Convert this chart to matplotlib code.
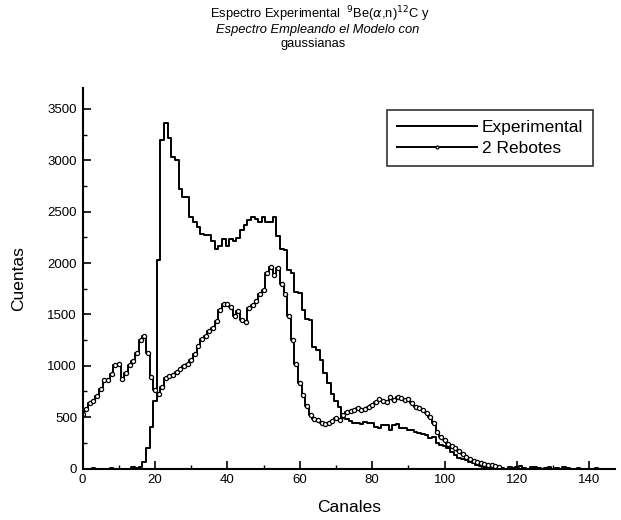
import matplotlib
matplotlib.use("Agg")
import matplotlib.pyplot as plt
import numpy as np
from matplotlib.ticker import MultipleLocator

plt.rcParams.update({
    "font.family": ["Liberation Sans", "DejaVu Sans"],
    "font.size": 9,
})

# Espectro experimental, cuentas por canal (canales 0..146)
EXP_CHANNELS = np.arange(0, 147)
EXP_COUNTS = np.array(
    [0, 0, 0, 5, 0, 0, 0, 0, 5, 0, 0, 0, 0, 0, 10, 5,
     10, 60, 200, 400, 660, 2030, 3200, 3360, 3220, 3035, 3000, 2720, 2640, 2640,
     2450, 2400, 2350, 2280, 2270, 2270, 2210, 2140, 2170, 2230,
     2170, 2230, 2210, 2240, 2320, 2370, 2420, 2450, 2430, 2400,
     2450, 2400, 2400, 2450, 2260, 2140, 2130, 1930, 1900, 1720,
     1710, 1540, 1460, 1450, 1180, 1150, 1060, 930, 830, 730,
     660, 600, 490, 480, 460, 445, 440, 430, 455, 440,
     440, 405, 390, 420, 425, 375, 420, 435, 395, 390,
     375, 373, 360, 350, 340, 330, 295, 305, 245, 228,
     215, 195, 165, 130, 100, 90, 80, 64, 50, 32,
     20, 10, 15, 5, 10, 15, 5, 0, 10, 5,
     15, 20, 5, 0, 10, 15, 5, 0, 5, 10,
     0, 5, 0, 10, 5, 0, 0, 5, 0, 0,
     0, 0, 5, 0, 0, 0, 0])

# Modelo de 2 rebotes (gaussianas), canales 0..115
MOD_CHANNELS = np.arange(0, 116)
MOD_COUNTS = np.array(
    [530, 580, 640, 660, 710, 770, 860, 860, 920, 1010,
     1020, 870, 930, 1010, 1045, 1120, 1250, 1290, 1120, 890,
     760, 730, 790, 880, 900, 910, 940, 970, 1000, 1020,
     1060, 1110, 1190, 1260, 1290, 1340, 1370, 1440, 1540, 1600,
     1600, 1570, 1480, 1530, 1450, 1430, 1560, 1590, 1630, 1700,
     1740, 1900, 1960, 1880, 1950, 1800, 1700, 1480, 1250, 1020,
     830, 720, 610, 520, 480, 470, 445, 430, 440, 460,
     490, 470, 520, 550, 560, 570, 585, 570, 580, 600,
     620, 650, 680, 660, 650, 700, 665, 700, 690, 665,
     680, 640, 600, 585, 570, 540, 500, 440, 360, 310,
     280, 240, 215, 200, 175, 140, 115, 90, 75, 65,
     50, 45, 35, 30, 20, 15])

fig = plt.figure(figsize=(6.21, 5.2), dpi=100)
ax = fig.add_axes([0.133, 0.099, 0.857, 0.731])

ax.plot(EXP_CHANNELS, EXP_COUNTS, drawstyle="steps-mid", color="black",
        linewidth=1.4, label="Experimental")
ax.plot(MOD_CHANNELS, MOD_COUNTS, drawstyle="steps-mid", color="black",
        linewidth=1.4, marker="o", markersize=3.0, markerfacecolor="white",
        markeredgecolor="black", markeredgewidth=0.9, label="2 Rebotes")

ax.set_xlim(0, 147)
ax.set_ylim(0, 3700)
ax.xaxis.set_major_locator(MultipleLocator(20))
ax.xaxis.set_minor_locator(MultipleLocator(10))
ax.yaxis.set_major_locator(MultipleLocator(500))
ax.yaxis.set_minor_locator(MultipleLocator(250))
ax.tick_params(which="major", direction="in", length=6, width=1.2,
               labelsize=9.5, pad=4)
ax.tick_params(which="minor", direction="in", length=3, width=1)
ax.spines["top"].set_visible(False)
ax.spines["right"].set_visible(False)
ax.spines["left"].set_linewidth(1.5)
ax.spines["bottom"].set_linewidth(1.5)

ax.set_xlabel("Canales", fontsize=12.5, labelpad=10)
ax.set_ylabel("Cuentas", fontsize=12.5, labelpad=15)

leg = ax.legend(loc="upper right", bbox_to_anchor=(0.975, 0.965), fontsize=12.5,
                fancybox=False, edgecolor="black", handlelength=4.6,
                handletextpad=0.3, borderpad=0.55, labelspacing=0.35,
                markerscale=0.7)
leg.get_frame().set_linewidth(1.2)

fig.text(0.515, 0.972, "Espectro Experimental  $^{9}$Be($\\alpha$,n)$^{12}$C y",
         ha="center", va="center", fontsize=9.3)
fig.text(0.512, 0.942, "Espectro Empleando el Modelo con", ha="center",
         va="center", fontsize=9.3, style="italic")
fig.text(0.505, 0.916, "gaussianas", ha="center", va="center", fontsize=9.3)

fig.savefig("out.png", dpi=100)
